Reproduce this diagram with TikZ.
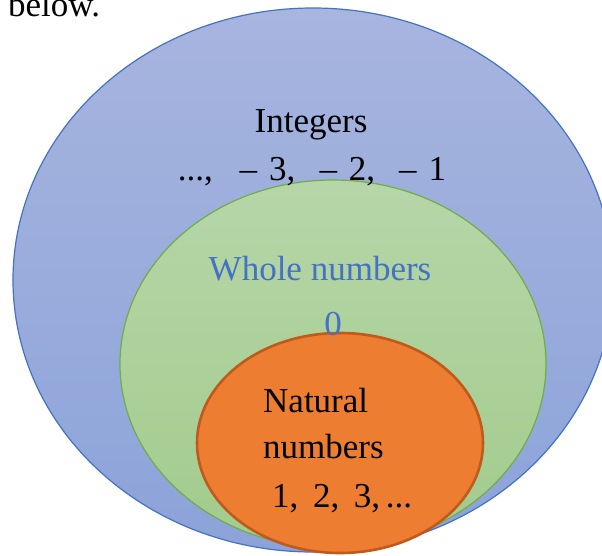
\documentclass[tikz,border=0pt]{standalone}
\usepackage{fontspec}
\setmainfont{Liberation Serif}
\usetikzlibrary{positioning}
\definecolor{intline}{HTML}{4472C4}
\definecolor{inttop}{HTML}{A7B5DF}
\definecolor{intbot}{HTML}{8CA3D9}
\definecolor{wholeline}{HTML}{70AD47}
\definecolor{wholetop}{HTML}{B6D6A8}
\definecolor{wholebot}{HTML}{A2CB8C}
\definecolor{natfill}{HTML}{ED7D31}
\definecolor{natline}{HTML}{C05A1C}
\newcommand{\negnum}[1]{–\hspace{12pt}#1}
\tikzset{
  intset/.style={draw=intline, line width=1.2pt, top color=inttop, bottom color=intbot},
  wholeset/.style={draw=wholeline, line width=1.2pt, top color=wholetop, bottom color=wholebot},
  natset/.style={draw=natline, line width=2.6pt, fill=natfill},
  lbl/.style={inner sep=0pt, font=\fontsize{35}{40}\selectfont}
}
\begin{document}
\begin{tikzpicture}[x=1pt,y=-1pt]
\useasboundingbox (0,0) rectangle (602,556);
\node[lbl, anchor=base west] (below) at (8,17) {below.};
\path[intset] (313,280) ellipse [x radius=300, y radius=272];
\path[wholeset] (333,364) ellipse [x radius=213, y radius=184];
\path[natset] (340,443) ellipse [x radius=143, y radius=110];
\node[lbl, anchor=base] (int) at (311,133) {Integers};
\node[lbl, anchor=base] (intnum) at (312,181)
  {...,\hspace{27pt}\negnum{3},\hspace{24pt}\negnum{2},\hspace{24pt}\negnum{1}};
\node[lbl, anchor=base, text=intline] (whole) at (320,280) {Whole numbers};
\node[lbl, anchor=base, text=intline] (zero) at (333,335) {0};
\node[lbl, anchor=base west] (nat) at (263,412) {Natural};
\node[lbl, anchor=base west] (natb) at (263,458) {numbers};
\node[lbl, anchor=base west] (natnum) at (272,507) {1,\ \,2,\ \,3,\,...};
\end{tikzpicture}
\end{document}
